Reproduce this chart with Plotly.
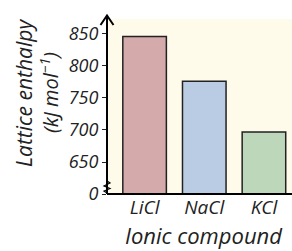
import plotly.graph_objects as go

compounds = ["LiCl", "NaCl", "KCl"]
enthalpy = [846, 776, 697]
bar_colors = ["#d5aaaa", "#b9cce4", "#bdd7bb"]
tick_values = [0, 650, 700, 750, 800, 850]

BREAK_LOW = 600  # axis value where 0 is displayed (axis break)

def disp(v):
    return v if v >= 650 else BREAK_LOW

FONT = "Open Sans"
fig = go.Figure()
fig.add_trace(go.Bar(
    x=compounds,
    y=[v - BREAK_LOW for v in enthalpy],
    base=BREAK_LOW,
    marker=dict(color=bar_colors, line=dict(color="#222222", width=1.5)),
    width=0.73,
))

L, T, B, W, H = 107, 19, 57, 292, 251
ph = H - T - B

fig.update_layout(
    width=W, height=H,
    margin=dict(l=L, r=0, t=T, b=B),
    paper_bgcolor="white",
    plot_bgcolor="#fffbea",
    showlegend=False,
    font=dict(family=FONT, size=18, color="#222222", style="italic"),
    xaxis=dict(range=[-0.63, 2.47], showline=False, ticks="", showgrid=False,
               tickvals=compounds,
               ticktext=[f"<i>{c}</i>" for c in compounds],
               tickfont=dict(family=FONT, size=19, style="italic")),
    yaxis=dict(range=[BREAK_LOW, 873.4], showline=False, showgrid=False,
               zeroline=False,
               tickvals=[disp(v) for v in tick_values],
               ticktext=[f"<i>{v}</i>" for v in tick_values],
               ticks="outside", ticklen=4, tickwidth=1, tickcolor="#222222",
               tickfont=dict(family=FONT, size=18, style="italic")),
)

def py(p):
    return (H - B - p) / ph

def px(p):
    return (p - L) / (W - L)

shapes = []
shapes.append(dict(type="line", xref="paper", yref="paper", x0=0, x1=0,
                   y0=py(194), y1=py(15), line=dict(color="black", width=2)))
shapes.append(dict(type="path", xref="paper", yref="paper",
                   path=f"M {px(100.5)},{py(25)} L {px(107)},{py(15.5)} L {px(113.5)},{py(25)}",
                   line=dict(color="black", width=2)))
shapes.append(dict(type="line", xref="paper", yref="paper", x0=0, x1=1,
                   y0=0, y1=0, line=dict(color="black", width=2)))
zig = [(107, 181), (110, 183), (104, 186), (110, 188.5), (104, 191), (107, 193)]
path = "M " + " L ".join(f"{px(a)},{py(b)}" for a, b in zig)
shapes.append(dict(type="path", xref="paper", yref="paper", path=path,
                   line=dict(color="black", width=1.2)))
fig.update_layout(shapes=shapes)

fig.add_annotation(text="<i>Lattice enthalpy</i>", xref="paper", yref="paper",
                   x=px(24), y=py(93), textangle=-90, showarrow=False,
                   xanchor="center", yanchor="middle",
                   font=dict(family=FONT, size=21, style="italic"))
fig.add_annotation(text="<i>(kJ mol<sup>−1</sup>)</i>", xref="paper", yref="paper",
                   x=px(49), y=py(93), textangle=-90, showarrow=False,
                   xanchor="center", yanchor="middle",
                   font=dict(family=FONT, size=20, style="italic"))
fig.add_annotation(text="<i>Ionic compound</i>", xref="paper", yref="paper",
                   x=px(204), y=py(250.5), showarrow=False, borderpad=0,
                   xanchor="center", yanchor="bottom",
                   font=dict(family=FONT, size=22, style="italic"))

fig.write_html("out.html", config={"displayModeBar": False},
               post_script="document.body.style.margin='0';document.body.style.padding='0';")
